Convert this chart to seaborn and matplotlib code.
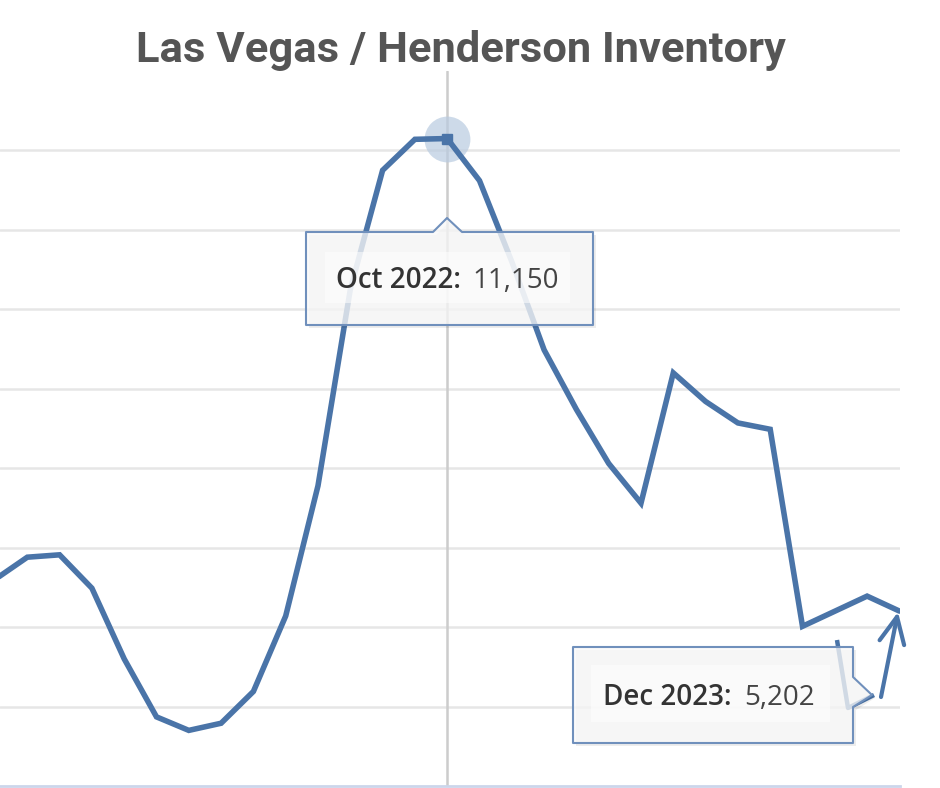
import matplotlib
matplotlib.use("Agg")
import matplotlib.pyplot as plt
import seaborn as sns
import pandas as pd
import numpy as np
from matplotlib.patches import Polygon, Rectangle
from matplotlib.lines import Line2D

# ---- data ----
months = ["Aug 2021", "Sep 2021", "Oct 2021", "Nov 2021", "Dec 2021",
          "Jan 2022", "Feb 2022", "Mar 2022", "Apr 2022", "May 2022",
          "Jun 2022", "Jul 2022", "Aug 2022", "Sep 2022", "Oct 2022",
          "Nov 2022", "Dec 2022", "Jan 2023", "Feb 2023", "Mar 2023",
          "Apr 2023", "May 2023", "Jun 2023", "Jul 2023", "Aug 2023",
          "Sep 2023", "Oct 2023", "Nov 2023", "Dec 2023"]
inventory = [5600, 5880, 5910, 5490, 4600,
             3870, 3700, 3790, 4190, 5140,
             6780, 9250, 10750, 11140, 11150,
             10620, 9600, 8490, 7740, 7060,
             6560, 8200, 7840, 7570, 7490,
             5010, 5200, 5390, 5202]
grid_values = [4000, 5000, 6000, 7000, 8000, 9000, 10000, 11000]
title = "Las Vegas / Henderson Inventory"
tip_peak = ("Oct 2022:", "11,150")
tip_last = ("Dec 2023:", "5,202")

df = pd.DataFrame({"idx": np.arange(len(months)), "month": months, "inventory": inventory})

W, H = 940, 788
sns.set_theme(style="white")
plt.rcParams["font.family"] = ["Open Sans", "DejaVu Sans"]

fig = plt.figure(figsize=(W / 100, H / 100), dpi=100)
fig.patch.set_facecolor("white")

def fy(y):  # pixel-from-top -> figure fraction
    return 1 - y / H

def px(x, y):
    return (x / W, fy(y))

ax = fig.add_axes([0, fy(786), 900 / W, (786 - 71) / H])
LINE = "#4a74a8"
sns.lineplot(data=df, x="idx", y="inventory", ax=ax, color=LINE, linewidth=4.0,
             solid_joinstyle="miter", zorder=3)

# x-scale: month 0 sits at pixel -5, 32.3 px per month
ax.set_xlim((0 + 5) / 32.3, (900 + 5) / 32.3)
ax.set_ylim(3000, 12000)
ax.set_yticks(grid_values)
ax.set_xticks([])
ax.set_yticklabels([])
ax.tick_params(left=False, bottom=False)
ax.yaxis.grid(True, color="#e6e6e6", linewidth=1.8)
ax.set_axisbelow(True)
ax.set_xlabel("")
ax.set_ylabel("")
for s in ["left", "right", "top"]:
    ax.spines[s].set_visible(False)
ax.spines["bottom"].set_color("#ccd6eb")
ax.spines["bottom"].set_linewidth(2)
ax.patch.set_alpha(0)

# crosshair at peak
peak_i = months.index("Oct 2022")
ax.axvline(peak_i, color="#cccccc", linewidth=1.8, zorder=1)
ax.plot([peak_i], [inventory[peak_i]], marker="o", markersize=33, color="#b9cbe0",
        alpha=0.7, zorder=2, markeredgewidth=0)
ax.plot([peak_i], [inventory[peak_i]], marker="s", markersize=6.5, color=LINE, zorder=4)

# remnant stroke near the last tooltip (hand edit in the source image)
fig.add_artist(Line2D([837 / W, 848 / W, 874 / W], [fy(640), fy(708), fy(695)],
                      color=LINE, linewidth=3.2, zorder=4, solid_capstyle="butt"))

# ---- tooltips ----
def tooltip(outline, texts, inner):
    pts = [px(*p) for p in outline]
    shadow = Polygon([(x + 3 / W, y - 3 / H) for x, y in pts], closed=True,
                     transform=fig.transFigure, facecolor="black", alpha=0.07,
                     edgecolor="none", zorder=5)
    fig.add_artist(shadow)
    body = Polygon(pts, closed=True, transform=fig.transFigure, facecolor="#f9f9f9",
                   alpha=0.78, edgecolor="none", zorder=6)
    fig.add_artist(body)
    border = Polygon(pts, closed=True, transform=fig.transFigure, facecolor="none",
                     edgecolor="#7090bc", linewidth=1.5, joinstyle="round", zorder=7)
    fig.add_artist(border)
    ix0, iy0, ix1, iy1 = inner
    fig.add_artist(Rectangle(px(ix0, iy1), (ix1 - ix0) / W, (iy1 - iy0) / H,
                             transform=fig.transFigure, facecolor="white", alpha=0.55,
                             edgecolor="none", zorder=7))
    (bx, by, bold), (nx, ny, normal) = texts
    fig.text(bx / W, fy(by), bold, fontsize=20, fontweight="semibold", color="#333333",
             ha="left", va="baseline", zorder=8)
    fig.text(nx / W, fy(ny), normal, fontsize=20, color="#444444",
             ha="left", va="baseline", zorder=8)

tooltip([(306, 232), (433, 232), (447, 218), (462, 232), (593, 232), (593, 325), (306, 325)],
        [(336, 288, tip_peak[0]), (472, 288, tip_peak[1])], (325, 252, 570, 303))
tooltip([(573, 647), (853, 647), (853, 677), (872, 695), (853, 707), (853, 743), (573, 743)],
        [(603, 705, tip_last[0]), (744, 705, tip_last[1])], (591, 665, 830, 722))

# hand-drawn arrow toward the last point
ax.annotate("", xy=(898, H - 612), xycoords="figure pixels",
            xytext=(881, H - 697), textcoords="figure pixels",
            arrowprops=dict(arrowstyle="->,head_length=0.95,head_width=0.45",
                            mutation_scale=20, color=LINE, linewidth=3,
                            shrinkA=0, shrinkB=0, capstyle="round", joinstyle="round"),
            zorder=9, annotation_clip=False)

# title
fig.text(461 / W, fy(62), title, fontsize=31.3, fontweight="bold", color="#555555",
         ha="center", va="baseline", family=["Roboto", "DejaVu Sans"])

fig.savefig("out.png", dpi=100, facecolor="white")
